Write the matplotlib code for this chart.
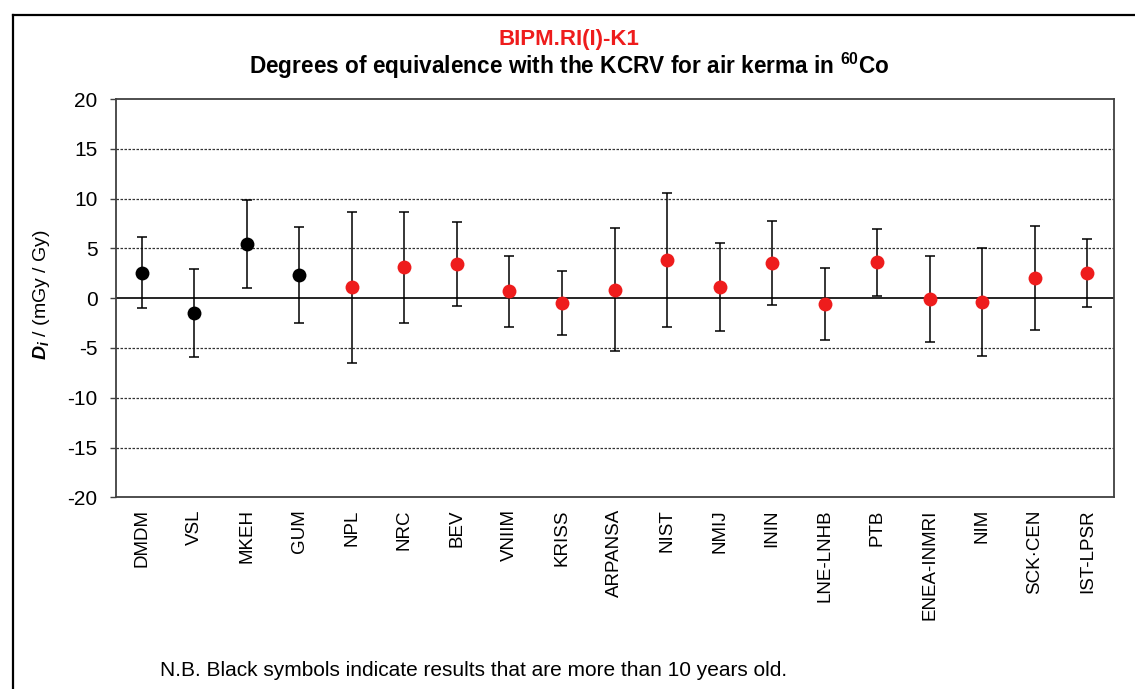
import matplotlib
matplotlib.use("Agg")
import matplotlib.pyplot as plt
from matplotlib.lines import Line2D

plt.rcParams["font.family"] = ["Liberation Sans", "DejaVu Sans"]
plt.rcParams["mathtext.fontset"] = "custom"
plt.rcParams["mathtext.rm"] = "Liberation Sans"
plt.rcParams["mathtext.bf"] = "Liberation Sans:bold"
plt.rcParams["mathtext.it"] = "Liberation Sans:italic"
plt.rcParams["mathtext.bfit"] = "Liberation Sans:italic:bold"
plt.rcParams["axes.unicode_minus"] = False

# data
labs = ["DMDM", "VSL", "MKEH", "GUM", "NPL", "NRC", "BEV", "VNIIM", "KRISS", "ARPANSA",
        "NIST", "NMIJ", "ININ", "LNE-LNHB", "PTB", "ENEA-INMRI", "NIM", "SCK·CEN", "IST-LPSR"]
di = [2.55, -1.5, 5.45, 2.3, 1.1, 3.1, 3.4, 0.7, -0.5, 0.85,
      3.85, 1.15, 3.5, -0.6, 3.6, -0.1, -0.4, 2.05, 2.55]
unc = [3.55, 4.4, 4.45, 4.8, 7.6, 5.6, 4.2, 3.55, 3.2, 6.2,
       6.75, 4.4, 4.2, 3.6, 3.35, 4.35, 5.4, 5.2, 3.4]
old = [True, True, True, True] + [False] * 15
yticks = [-20, -15, -10, -5, 0, 5, 10, 15, 20]

RED = "#ee1c1c"
fig = plt.figure(figsize=(11.35, 6.89), dpi=100)
ax = fig.add_axes([0.1018, 0.2782, 0.8793, 0.5781])

xs = list(range(len(labs)))
for y in [-15, -10, -5, 5, 10, 15]:
    ax.axhline(y, color="#333333", lw=0.9, ls=(0, (2, 1.2)), zorder=1)
ax.axhline(0, color="black", lw=1.2, zorder=1)

ax.errorbar(xs, di, yerr=unc, fmt="none", ecolor="black", elinewidth=1.1,
            capsize=3.6, capthick=1.1, zorder=2)
for x, d, o in zip(xs, di, old):
    ax.plot(x, d, "o", ms=10, color="black" if o else RED, mec="none", zorder=3)

ax.set_xlim(-0.5, len(labs) - 0.5)
ax.set_ylim(-20, 20)
ax.set_yticks(yticks)
ax.set_yticklabels([str(v) for v in yticks], fontsize=15)
ax.set_xticks(xs)
ax.set_xticklabels(labs, rotation=90, fontsize=13.5, va="top")
ax.tick_params(axis="x", length=0, pad=8.5)
ax.tick_params(axis="y", length=4.5, width=1.0, color="#404040", pad=8.5)
for s in ax.spines.values():
    s.set_color("#404040")
    s.set_linewidth(1.3)

fig.text(41.7 / 1135, 0.572, r"$\mathbfit{D_i}$ / (mGy / Gy)", rotation=90,
         ha="center", va="center", fontsize=14)

fig.text(0.5013, 0.9345, "BIPM.RI(I)-K1", color=RED, fontsize=16, fontweight="bold",
         ha="center", va="baseline")
fig.text(0.5013, 0.8925, r"Degrees of equivalence with the KCRV for air kerma in $^{\mathbf{60}}$Co",
         fontsize=16.3, fontweight="bold", ha="center", va="baseline")
fig.text(0.141, 0.0189, "N.B. Black symbols indicate results that are more than 10 years old.",
         fontsize=15, ha="left", va="baseline")

# outer frame (top and left edges only visible)
fig.add_artist(Line2D([0.0112, 1.0], [0.9778, 0.9778], color="black", lw=1.6,
                      transform=fig.transFigure))
fig.add_artist(Line2D([0.0112, 0.0112], [0.0, 0.9778], color="black", lw=1.6,
                      transform=fig.transFigure))

fig.savefig("out.png", dpi=100)
